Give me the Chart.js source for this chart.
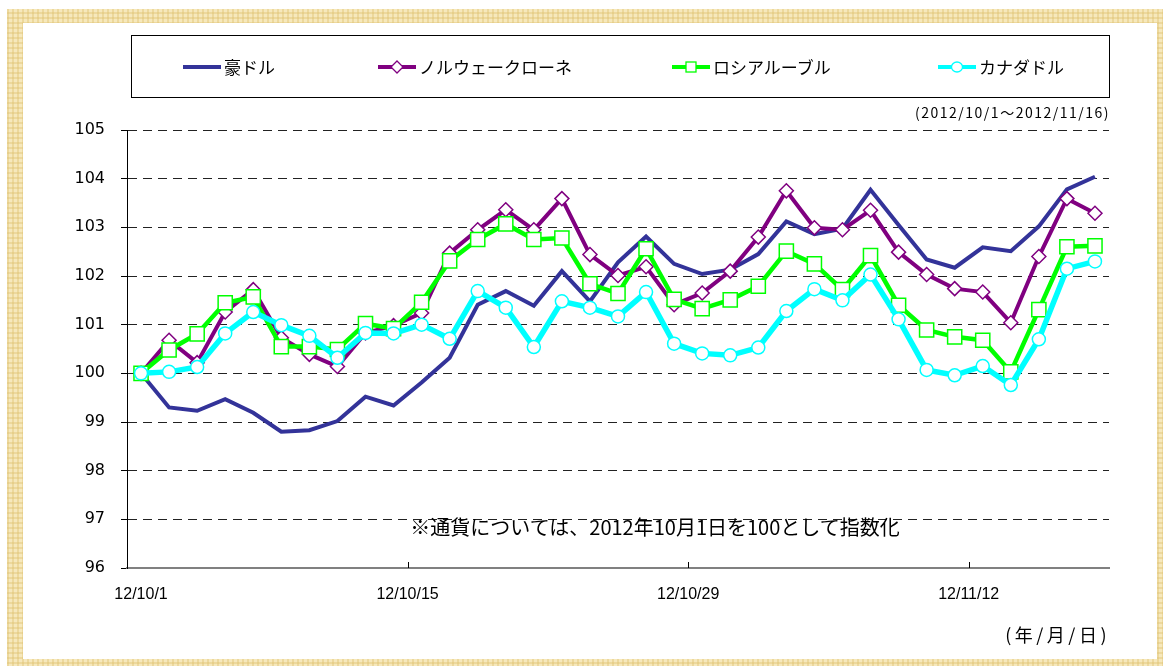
<!DOCTYPE html>
<html lang="ja">
<head>
<meta charset="utf-8">
<title>通貨指数</title>
<script src="https://cdn.jsdelivr.net/npm/chart.js@4.4.0/dist/chart.umd.min.js"></script>
<style>
  html, body { margin: 0; padding: 0; background: #fff; }
  body { width: 1163px; height: 666px; position: relative; overflow: hidden; font-family: "Noto Sans CJK JP", sans-serif; color: #000; }
  .frame {
    position: absolute; left: 7px; top: 9px; width: 1160px; height: 660px;
    background-color: #f6e8bc;
    background-image:
      repeating-linear-gradient(0deg, rgba(222, 192, 110, 0.4) 0 2px, transparent 2px 5px),
      repeating-linear-gradient(90deg, rgba(222, 192, 110, 0.4) 0 2px, transparent 2px 5px);
  }
  .panel { position: absolute; left: 23px; top: 23px; width: 1134px; height: 636px; background: #fff; }
  #chart { position: absolute; left: 0; top: 0; }
  .legend { position: absolute; left: 131px; top: 35px; width: 979px; height: 63px; box-sizing: border-box; border: 1px solid #000; }
  .item { position: absolute; top: 0; height: 61px; display: flex; align-items: center; font-size: 17px; white-space: nowrap; }
  .item svg { margin-right: 3px; }
  .range { position: absolute; right: 53px; top: 102px; font-size: 14px; letter-spacing: 1.5px; }
  .note { position: absolute; left: 655px; top: 512px; transform: translateX(-50%); font-size: 20px; white-space: nowrap; }
  .unit { position: absolute; right: 53px; top: 621px; font-size: 18px; letter-spacing: 3.5px; }
</style>
</head>
<body>
<div class="frame"></div>
<div class="panel"></div>
<canvas id="chart" width="1163" height="666"></canvas>
<div class="legend" id="legend"></div>
<div class="range">(2012/10/1～2012/11/16)</div>
<div class="note">※通貨については、2012年10月1日を100として指数化</div>
<div class="unit">(年/月/日)</div>
<script>
// 営業日 (2012/10/1 ～ 2012/11/16)
const dates = [
  '12/10/1', '12/10/2', '12/10/3', '12/10/4', '12/10/5',
  '12/10/8', '12/10/9', '12/10/10', '12/10/11', '12/10/12',
  '12/10/15', '12/10/16', '12/10/17', '12/10/18', '12/10/19',
  '12/10/22', '12/10/23', '12/10/24', '12/10/25', '12/10/26',
  '12/10/29', '12/10/30', '12/10/31', '12/11/1', '12/11/2',
  '12/11/5', '12/11/6', '12/11/7', '12/11/8', '12/11/9',
  '12/11/12', '12/11/13', '12/11/14', '12/11/15', '12/11/16'
];
const tickDates = ['12/10/1', '12/10/15', '12/10/29', '12/11/12'];

const seriesNames = ['豪ドル', 'ノルウェークローネ', 'ロシアルーブル', 'カナダドル'];

const aud = [100.00, 99.30, 99.23, 99.47, 99.19, 98.80, 98.83, 99.02, 99.52, 99.34,
  99.81, 100.32, 101.41, 101.69, 101.39, 102.10, 101.48, 102.28, 102.81, 102.25,
  102.04, 102.13, 102.45, 103.12, 102.86, 102.97, 103.77, 103.05, 102.34, 102.17,
  102.59, 102.51, 103.02, 103.78, 104.04];
const nok = [100.00, 100.68, 100.22, 101.26, 101.72, 100.73, 100.39, 100.14, 100.83, 100.98,
  101.24, 102.47, 102.95, 103.36, 102.95, 103.59, 102.44, 102.01, 102.19, 101.41,
  101.65, 102.10, 102.80, 103.75, 102.99, 102.95, 103.35, 102.49, 102.03, 101.74,
  101.67, 101.04, 102.40, 103.59, 103.29];
const rub = [100.00, 100.48, 100.81, 101.45, 101.57, 100.55, 100.55, 100.49, 101.02, 100.92,
  101.46, 102.31, 102.75, 103.07, 102.75, 102.78, 101.84, 101.64, 102.56, 101.52,
  101.33, 101.51, 101.79, 102.51, 102.25, 101.72, 102.42, 101.40, 100.89, 100.75,
  100.68, 100.03, 101.31, 102.60, 102.62];
const cad = [100.00, 100.03, 100.13, 100.82, 101.26, 100.99, 100.77, 100.32, 100.83, 100.82,
  101.00, 100.71, 101.69, 101.35, 100.54, 101.48, 101.35, 101.17, 101.67, 100.61,
  100.41, 100.37, 100.53, 101.28, 101.73, 101.50, 102.03, 101.11, 100.07, 99.96,
  100.15, 99.76, 100.70, 102.15, 102.30];

const yTicks = [96, 97, 98, 99, 100, 101, 102, 103, 104, 105];

// 見た目の設定
const styles = [
  { color: '#333399', width: 4, marker: false, radius: 0 },
  { color: '#800080', width: 4, marker: 'rectRot', radius: 7 },
  { color: '#00ff00', width: 4.5, marker: 'rect', radius: 10 },
  { color: '#00ffff', width: 5.5, marker: 'circle', radius: 6.5 }
];
const legendX = [183, 378, 672, 938];

// 目盛り位置: 最初の日付はその点、以降は区切り線上
function tickValueFor(label) {
  const i = dates.indexOf(label);
  return i === 0 ? 0 : i - 0.5;
}

const datasets = [aud, nok, rub, cad].map((values, k) => {
  const s = styles[k];
  return {
    label: seriesNames[k],
    data: values.map((v, i) => ({ x: i, y: v })),
    borderColor: s.color,
    borderWidth: s.width,
    backgroundColor: '#ffffff',
    pointStyle: s.marker || 'circle',
    pointRadius: s.radius,
    pointBorderWidth: 1.5,
    pointBorderColor: s.color,
    pointBackgroundColor: '#ffffff',
    tension: 0,
    order: 4 - k
  };
});

// 凡例 (HTML)
const legendEl = document.getElementById('legend');
seriesNames.forEach((name, k) => {
  const s = styles[k];
  let mark = '';
  if (s.marker === 'rectRot') mark = '<polygon points="19,2 25,8 19,14 13,8" fill="#fff" stroke="' + s.color + '" stroke-width="1.3"/>';
  if (s.marker === 'rect') mark = '<rect x="14" y="3" width="10" height="10" fill="#fff" stroke="' + s.color + '" stroke-width="1.3"/>';
  if (s.marker === 'circle') mark = '<ellipse cx="19" cy="8" rx="5.5" ry="5" fill="#fff" stroke="' + s.color + '" stroke-width="1.3"/>';
  const item = document.createElement('div');
  item.className = 'item';
  item.style.left = (legendX[k] - 132) + 'px';
  item.innerHTML = '<svg width="38" height="16"><line x1="0" y1="8" x2="38" y2="8" stroke="' + s.color +
    '" stroke-width="4"/>' + mark + '</svg><span>' + name + '</span>';
  legendEl.appendChild(item);
});

// X軸の内向き目盛り線
const innerTicks = {
  id: 'innerTicks',
  beforeDatasetsDraw(chart) {
    const { ctx, chartArea, scales } = chart;
    ctx.save();
    ctx.strokeStyle = '#000';
    ctx.lineWidth = 1;
    scales.x.ticks.forEach(t => {
      if (t.value === 0) return;
      const px = Math.round(scales.x.getPixelForValue(t.value)) + 0.5;
      ctx.beginPath();
      ctx.moveTo(px, chartArea.bottom);
      ctx.lineTo(px, chartArea.bottom - 6);
      ctx.stroke();
    });
    ctx.restore();
  }
};

new Chart(document.getElementById('chart'), {
  type: 'line',
  data: { datasets: datasets },
  options: {
    responsive: false,
    animation: false,
    layout: { padding: { top: 130, right: 54, bottom: 0, left: 0 } },
    plugins: {
      legend: { display: false },
      tooltip: { enabled: false }
    },
    scales: {
      x: {
        type: 'linear',
        min: -0.5,
        max: dates.length - 0.5,
        afterFit(scale) { scale.height = 98; },
        afterBuildTicks(scale) {
          scale.ticks = tickDates.map(d => ({ value: tickValueFor(d) }));
        },
        grid: { display: false, drawTicks: false },
        border: { display: true, color: '#808080', width: 2 },
        ticks: {
          autoSkip: false,
          maxRotation: 0,
          padding: 17,
          color: '#000',
          font: { family: '"Liberation Sans", Arial, sans-serif', size: 16 },
          callback(value) { return dates[Math.ceil(value)]; }
        }
      },
      y: {
        min: 96,
        max: 105,
        afterFit(scale) { scale.width = 127; },
        afterBuildTicks(scale) {
          scale.ticks = yTicks.map(v => ({ value: v }));
        },
        grid: {
          color: '#222',
          lineWidth: 1,
          drawTicks: true,
          tickLength: 6,
          tickColor: '#000',
          tickBorderDash: []
        },
        border: { display: true, color: '#000', width: 1, dash: [9, 6] },
        ticks: {
          padding: 16,
          color: '#000',
          font: { family: '"DejaVu Sans", sans-serif', size: 16 }
        }
      }
    }
  },
  plugins: [innerTicks]
});
</script>
</body>
</html>
